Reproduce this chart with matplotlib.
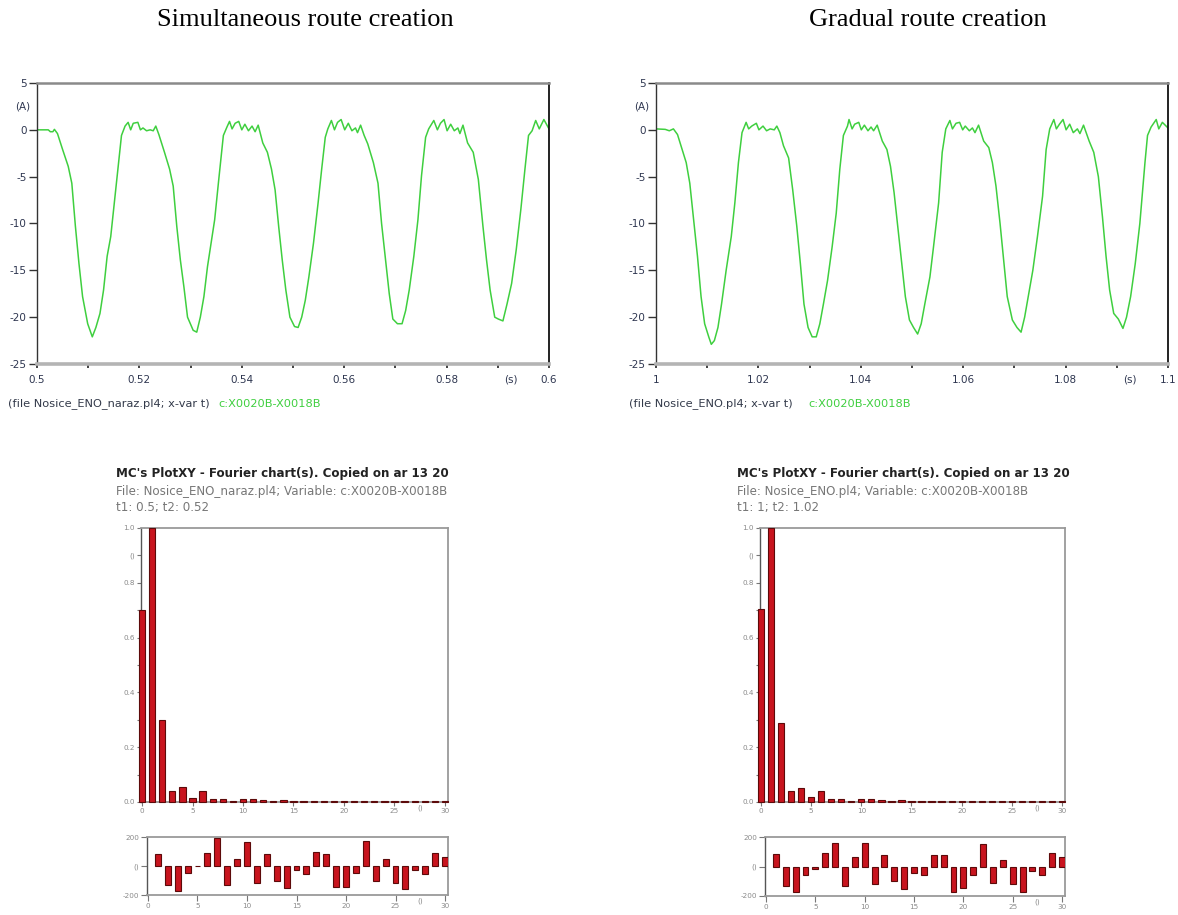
import matplotlib
matplotlib.use('Agg')
import matplotlib.pyplot as plt

# ---------------- data ----------------
# Simultaneous route creation: current c:X0020B-X0018B (A) vs time (s)
t_sim = [0.5000, 0.5022, 0.5026, 0.5031, 0.5034, 0.5040, 0.5050, 0.5061, 0.5068, 0.5075,
         0.5082, 0.5089, 0.5099, 0.5108, 0.5115, 0.5123, 0.5130, 0.5137, 0.5144, 0.5151,
         0.5158, 0.5165, 0.5172, 0.5178, 0.5183, 0.5188, 0.5197, 0.5202, 0.5207, 0.5214,
         0.5221, 0.5227, 0.5232, 0.5238, 0.5249, 0.5259, 0.5266, 0.5273, 0.5280, 0.5287,
         0.5294, 0.5305, 0.5312, 0.5319, 0.5326, 0.5333, 0.5340, 0.5347, 0.5355, 0.5364,
         0.5371, 0.5376, 0.5381, 0.5387, 0.5394, 0.5400, 0.5406, 0.5413, 0.5420, 0.5426,
         0.5432, 0.5441, 0.5450, 0.5458, 0.5465, 0.5472, 0.5479, 0.5486, 0.5494, 0.5503,
         0.5510, 0.5517, 0.5524, 0.5531, 0.5540, 0.5549, 0.5556, 0.5563, 0.5568, 0.5575,
         0.5581, 0.5587, 0.5594, 0.5601, 0.5608, 0.5615, 0.5622, 0.5626, 0.5632, 0.5639,
         0.5646, 0.5657, 0.5666, 0.5673, 0.5680, 0.5688, 0.5695, 0.5704, 0.5713, 0.5720,
         0.5727, 0.5736, 0.5744, 0.5751, 0.5759, 0.5765, 0.5775, 0.5782, 0.5788, 0.5795,
         0.5801, 0.5808, 0.5815, 0.5822, 0.5826, 0.5832, 0.5841, 0.5852, 0.5862, 0.5871,
         0.5878, 0.5885, 0.5894, 0.5901, 0.5910, 0.5918, 0.5927, 0.5936, 0.5945, 0.5953,
         0.5960, 0.5967, 0.5974, 0.5981, 0.5990, 0.6000]
i_sim = [0.0, 0.0, -0.2, -0.2, 0.05, -0.4, -2.1, -3.9, -5.7, -10.3,
         -14.3, -17.8, -20.7, -22.1, -21.1, -19.6, -17.1, -13.5, -11.4, -7.8,
         -4.2, -0.6, 0.4, 0.8, 0.0, 0.7, 0.8, 0.0, 0.2, -0.1,
         0.0, -0.1, 0.4, -0.5, -2.4, -4.2, -6.0, -10.3, -13.9, -16.8,
         -20.0, -21.4, -21.6, -20.0, -17.8, -14.6, -12.1, -9.6, -5.3, -0.6,
         0.3, 0.9, 0.1, 0.7, 0.9, 0.0, 0.6, -0.1, 0.4, -0.2,
         0.5, -1.4, -2.4, -4.2, -6.4, -10.3, -13.9, -17.1, -20.0, -21.0,
         -21.1, -20.0, -18.2, -15.7, -12.1, -7.8, -4.2, -0.8, 0.1, 1.0,
         0.0, 0.8, 1.1, 0.0, 0.7, -0.1, 0.2, -0.3, 0.5, -0.6,
         -1.5, -3.5, -5.7, -10.0, -13.5, -17.5, -20.2, -20.7, -20.7, -19.3,
         -17.1, -13.5, -9.6, -4.9, -0.8, 0.1, 1.0, 0.0, 0.7, 1.1,
         -0.1, 0.6, -0.1, 0.2, -0.4, 0.5, -1.4, -2.4, -5.3, -10.3,
         -13.9, -17.1, -20.0, -20.2, -20.4, -18.6, -16.4, -12.8, -8.5, -4.2,
         -0.6, -0.1, 1.0, 0.1, 1.1, 0.1]

# Gradual route creation
t_grad = [1.0000, 1.0018, 1.0026, 1.0034, 1.0042, 1.0051, 1.0059, 1.0066, 1.0073, 1.0081,
          1.0088, 1.0095, 1.0103, 1.0108, 1.0114, 1.0121, 1.0128, 1.0137, 1.0147, 1.0154,
          1.0161, 1.0168, 1.0176, 1.0181, 1.0187, 1.0196, 1.0201, 1.0209, 1.0216, 1.0223,
          1.0231, 1.0236, 1.0242, 1.0249, 1.0259, 1.0267, 1.0275, 1.0282, 1.0289, 1.0297,
          1.0305, 1.0313, 1.0320, 1.0327, 1.0335, 1.0344, 1.0352, 1.0359, 1.0366, 1.0374,
          1.0377, 1.0383, 1.0388, 1.0396, 1.0401, 1.0407, 1.0414, 1.0420, 1.0425, 1.0432,
          1.0442, 1.0451, 1.0458, 1.0465, 1.0473, 1.0480, 1.0487, 1.0495, 1.0503, 1.0511,
          1.0518, 1.0525, 1.0535, 1.0542, 1.0552, 1.0559, 1.0566, 1.0574, 1.0579, 1.0586,
          1.0593, 1.0599, 1.0604, 1.0612, 1.0618, 1.0623, 1.0630, 1.0640, 1.0650, 1.0657,
          1.0664, 1.0672, 1.0679, 1.0686, 1.0696, 1.0705, 1.0713, 1.0720, 1.0727, 1.0736,
          1.0745, 1.0755, 1.0762, 1.0769, 1.0777, 1.0782, 1.0788, 1.0795, 1.0801, 1.0808,
          1.0815, 1.0823, 1.0828, 1.0835, 1.0846, 1.0855, 1.0864, 1.0872, 1.0879, 1.0886,
          1.0894, 1.0903, 1.0912, 1.0919, 1.0927, 1.0936, 1.0945, 1.0955, 1.0960, 1.0967,
          1.0977, 1.0982, 1.0989, 1.1000]
i_grad = [0.1, 0.05, -0.1, 0.1, -0.5, -2.1, -3.5, -5.7, -9.3, -13.5,
          -17.8, -20.7, -22.1, -22.9, -22.5, -21.1, -18.6, -15.0, -11.4, -7.8,
          -3.5, -0.3, 0.8, 0.1, 0.4, 0.7, 0.0, 0.4, -0.1, 0.1,
          0.0, 0.4, -0.3, -1.7, -3.0, -6.4, -10.3, -14.3, -18.6, -21.1,
          -22.1, -22.1, -20.7, -18.6, -16.1, -12.5, -8.9, -4.2, -0.6, 0.4,
          1.1, 0.1, 0.6, 0.8, 0.0, 0.5, -0.1, 0.3, -0.1, 0.5,
          -1.2, -2.1, -3.9, -6.7, -10.7, -14.3, -17.8, -20.3, -21.1, -21.8,
          -20.7, -18.6, -15.7, -12.5, -7.8, -2.4, 0.1, 1.0, 0.1, 0.7,
          0.8, 0.0, 0.4, -0.1, 0.2, -0.3, 0.5, -1.2, -1.9, -3.5,
          -6.0, -10.0, -13.9, -17.8, -20.3, -21.1, -21.6, -20.0, -17.8, -15.0,
          -11.4, -7.1, -2.1, 0.1, 1.1, 0.1, 0.6, 1.1, 0.0, 0.6,
          -0.3, 0.1, -0.4, 0.5, -1.2, -2.4, -5.0, -9.3, -13.5, -17.1,
          -19.6, -20.2, -21.2, -20.0, -17.8, -14.3, -10.0, -3.5, -0.6, 0.3,
          1.1, 0.1, 0.8, 0.2]

# Fourier magnitudes (normalised), harmonics 0..30
harmonics = list(range(31))
mag_sim = [0.70, 1.00, 0.30, 0.04, 0.055, 0.015, 0.04, 0.010, 0.012, 0.005,
           0.010, 0.012, 0.007, 0.005, 0.007, 0.004, 0.004, 0.003, 0.003, 0.003,
           0.003, 0.003, 0.003, 0.003, 0.003, 0.003, 0.003, 0.003, 0.003, 0.003, 0.003]
mag_grad = [0.705, 1.00, 0.29, 0.04, 0.05, 0.02, 0.04, 0.010, 0.012, 0.005,
            0.010, 0.011, 0.007, 0.004, 0.006, 0.004, 0.003, 0.003, 0.003, 0.003,
            0.003, 0.003, 0.003, 0.003, 0.003, 0.003, 0.003, 0.003, 0.003, 0.003, 0.003]

# Phase angles (deg), harmonics 1..30
phase_harm = list(range(1, 31))
ph_sim = [85, -130, -175, -50, -3, 90, 195, -130, 45, 165,
          -115, 80, -105, -150, -28, -55, 98, 80, -148, -148,
          -45, 172, -100, 50, -115, -160, -28, -55, 88, 65]
ph_grad = [82, -130, -175, -55, -15, 90, 160, -130, 65, 160,
           -122, 75, -95, -152, -45, -60, 80, 80, -175, -148,
           -60, 155, -112, 45, -122, -170, -32, -60, 90, 65]

# tick labels
y_time_ticks = [5, 0, -5, -10, -15, -20, -25]
x_sim_ticks = [0.5, 0.52, 0.54, 0.56, 0.58, 0.6]
x_sim_labels = ['0.5', '0.52', '0.54', '0.56', '0.58', '0.6']
x_grad_ticks = [1.0, 1.02, 1.04, 1.06, 1.08, 1.1]
x_grad_labels = ['1', '1.02', '1.04', '1.06', '1.08', '1.1']
mag_ticks = [0.0, 0.1, 0.2, 0.3, 0.4, 0.5, 0.6, 0.7, 0.8, 0.9, 1.0]
mag_labels = ['0.0', '', '0.2', '', '0.4', '', '0.6', '', '0.8', '()', '1.0']
harm_ticks = [0, 5, 10, 15, 20, 25, 30]
harm_labels = ['0', '5', '10', '15', '20', '25', '30']
ph_ticks = [-200, 0, 200]
ph_labels = ['-200', '()', '200']

# ---------------- figure ----------------
W, H = 1178, 915
fig = plt.figure(figsize=(W / 100, H / 100), dpi=100)
fig.patch.set_facecolor('white')


def px_axes(l, t, r, b):
    return fig.add_axes([l / W, 1 - b / H, (r - l) / W, (b - t) / H])


def fx(x):
    return x / W


def fy(y):
    return 1 - y / H


TICK_COL = '#2e3650'
GREEN = '#3fcf3f'
BAR = '#c8141e'
BAR_EDGE = '#5c0a0a'
GRAY_TXT = '#8a8a8a'


def time_panel(l, t, r, b, tt, ii, xticks, xlabels, s_pos):
    ax = px_axes(l, t, r, b)
    ax.plot(tt, ii, color=GREEN, lw=1.1)
    ax.set_xlim(xticks[0], xticks[-1])
    ax.set_ylim(-25, 5)
    ax.set_yticks(y_time_ticks)
    ax.set_yticklabels([str(v) for v in y_time_ticks])
    ax.set_xticks(xticks)
    ax.set_xticklabels(xlabels)
    step = (xticks[1] - xticks[0]) / 2
    ax.set_xticks([xticks[0] + step * (2 * k + 1) for k in range(5)], minor=True)
    ax.tick_params(axis='y', direction='out', length=5.5, width=1.0, color='#333333',
                   pad=2, labelsize=7.5, labelcolor=TICK_COL)
    ax.tick_params(axis='x', which='both', direction='out', length=3, width=1.3,
                   color='#333333', pad=5, labelsize=7.5, labelcolor=TICK_COL)
    ax.spines['left'].set_color('#333333')
    ax.spines['left'].set_linewidth(1.0)
    ax.spines['top'].set_color('#8a8a8a')
    ax.spines['top'].set_linewidth(1.8)
    ax.spines['right'].set_color('#111111')
    ax.spines['right'].set_linewidth(1.3)
    ax.spines['bottom'].set_color('#b4b4b4')
    ax.spines['bottom'].set_linewidth(2.6)
    ax.text(-14 / (r - l), 2.5, '(A)', transform=ax.get_yaxis_transform(),
            ha='center', va='center', fontsize=7.5, color=TICK_COL)
    ax.text(s_pos, -16 / (b - t), '(s)', transform=ax.get_xaxis_transform(),
            ha='center', va='center', fontsize=7.5, color=TICK_COL)
    return ax


def fourier_panel(l, t, r, b, mags):
    ax = px_axes(l, t, r, b)
    ax.bar(harmonics, mags, width=0.62, color=BAR, edgecolor=BAR_EDGE, lw=0.8,
           clip_on=False, zorder=3)
    ax.set_xlim(-0.1, 30.3)
    ax.set_ylim(0, 1.0)
    ax.set_yticks(mag_ticks)
    ax.set_yticklabels(mag_labels)
    ax.set_xticks(harm_ticks)
    ax.set_xticklabels(harm_labels)
    ax.set_xticks([27.5], minor=True)
    ax.set_xticklabels(['()'], minor=True)
    ax.tick_params(axis='both', which='both', direction='out', length=3, width=0.8,
                   color='#777777', pad=1.5, labelsize=5.2, labelcolor=GRAY_TXT)
    ax.tick_params(axis='x', which='minor', length=0)
    for s in ['top', 'right', 'bottom']:
        ax.spines[s].set_color('#9a9a9a')
        ax.spines[s].set_linewidth(1.3)
    ax.spines['left'].set_color('#555555')
    ax.spines['left'].set_linewidth(1.0)
    return ax


def phase_panel(l, t, r, b, ph):
    ax = px_axes(l, t, r, b)
    ax.bar(phase_harm, ph, width=0.6, color=BAR, edgecolor=BAR_EDGE, lw=0.8, zorder=3)
    ax.set_xlim(-0.1, 30.3)
    ax.set_ylim(-200, 200)
    ax.set_yticks(ph_ticks)
    ax.set_yticklabels(ph_labels)
    ax.set_xticks(harm_ticks)
    ax.set_xticklabels(harm_labels)
    ax.set_xticks([27.5], minor=True)
    ax.set_xticklabels(['()'], minor=True)
    ax.tick_params(axis='both', which='both', direction='out', length=4, width=0.8,
                   color='#777777', pad=1.5, labelsize=5.2, labelcolor=GRAY_TXT)
    ax.tick_params(axis='x', which='minor', length=0)
    for s in ['top', 'right', 'bottom']:
        ax.spines[s].set_color('#9a9a9a')
        ax.spines[s].set_linewidth(1.3)
    ax.spines['left'].set_color('#555555')
    ax.spines['left'].set_linewidth(1.0)
    return ax


# titles
fig.text(fx(305), fy(20), 'Simultaneous route creation', ha='center', va='center',
         family='Liberation Serif', fontsize=19, color='black')
fig.text(fx(928), fy(20), 'Gradual route creation', ha='center', va='center',
         family='Liberation Serif', fontsize=19, color='black')

# top time-domain panels
time_panel(37, 83, 549, 364, t_sim, i_sim, x_sim_ticks, x_sim_labels, 0.5925)
time_panel(656, 83, 1168, 364, t_grad, i_grad, x_grad_ticks, x_grad_labels, 1.0925)

fig.text(fx(8), fy(404), '(file Nosice_ENO_naraz.pl4; x-var t)', ha='left', va='center',
         fontsize=8.2, color='#333a4a')
fig.text(fx(218), fy(404), 'c:X0020B-X0018B', ha='left', va='center',
         fontsize=8.2, color=GREEN)
fig.text(fx(629), fy(404), '(file Nosice_ENO.pl4; x-var t)', ha='left', va='center',
         fontsize=8.2, color='#333a4a')
fig.text(fx(808), fy(404), 'c:X0020B-X0018B', ha='left', va='center',
         fontsize=8.2, color=GREEN)

# Fourier headers
for x0, fname, tline in [(116, 'Nosice_ENO_naraz.pl4', 't1: 0.5; t2: 0.52'),
                         (737, 'Nosice_ENO.pl4', 't1: 1; t2: 1.02')]:
    fig.text(fx(x0), fy(474), "MC's PlotXY - Fourier chart(s). Copied on ar 13 20",
             ha='left', va='center', fontsize=8.6, fontweight='bold', color='#222222')
    fig.text(fx(x0), fy(492), 'File: %s; Variable: c:X0020B-X0018B' % fname,
             ha='left', va='center', fontsize=8.6, color='#777777')
    fig.text(fx(x0), fy(508), tline, ha='left', va='center', fontsize=8.6, color='#777777')

fourier_panel(141, 528, 448, 802, mag_sim)
fourier_panel(760, 528, 1065, 802, mag_grad)
phase_panel(147, 837, 448, 895, ph_sim)
phase_panel(765, 837, 1065, 896, ph_grad)

fig.savefig('out.png', dpi=100, facecolor='white')
